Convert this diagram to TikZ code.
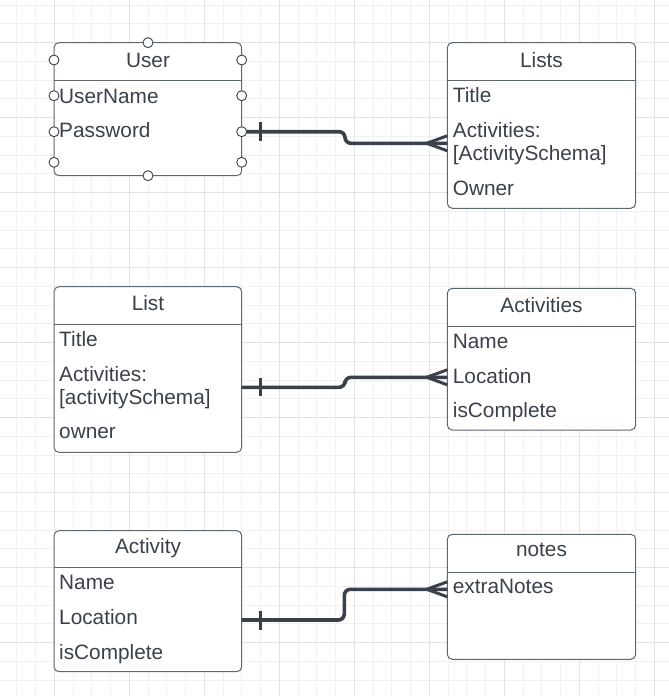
\documentclass[tikz,border=0pt]{standalone}
\usepackage{fontspec}
\setmainfont{Liberation Sans}
\definecolor{inkgray}{HTML}{3A414A}
\definecolor{edgegray}{HTML}{5E6670}
\definecolor{gridlight}{HTML}{F1F1F1}
\definecolor{griddark}{HTML}{E2E2E2}
\newcommand{\erFont}{\fontsize{20.8}{24}\selectfont}

\begin{document}
\begin{tikzpicture}[x=1pt,y=-1pt,
  entity/.style={draw=edgegray, line width=1pt, rounded corners=5pt, fill=white, anchor=north west, inner sep=0pt, outer sep=0pt},
  field/.style={anchor=base west, inner sep=0pt, text=inkgray, font=\erFont},
  heading/.style={anchor=base, inner sep=0pt, text=inkgray, font=\erFont},
  port/.style={circle, draw=inkgray, fill=white, line width=0.9pt, minimum size=10pt, inner sep=0pt},
  rel/.style={draw=inkgray, line width=3.6pt, rounded corners=6pt},
  crow/.style={draw=inkgray, line width=3pt}]
\useasboundingbox (0,0) rectangle (669,696);
\fill[white] (0,0) rectangle (669,696);
% grid
\foreach \i in {0,...,34} \draw[gridlight, line width=1pt] ({16.8+18.75*\i},0) -- ({16.8+18.75*\i},696);
\foreach \i in {0,...,36} \draw[gridlight, line width=1pt] (0,{5.2+18.75*\i}) -- (669,{5.2+18.75*\i});
\foreach \i in {0,...,8} \draw[griddark, line width=1pt] ({54.3+75*\i},0) -- ({54.3+75*\i},696);
\foreach \i in {0,...,8} \draw[griddark, line width=1pt] (0,{42.7+75*\i}) -- (669,{42.7+75*\i});

% User
\node[entity, minimum width=187.7pt, minimum height=133pt] (user) at (54,42.7) {};
\draw[edgegray, line width=1pt] (user.west |- 0,80.7) -- (user.east |- 0,80.7);
\node[heading] (user-t) at (148,67) {User};
\node[field] (user-name) at (59,103) {UserName};
\node[field] (user-pw) at (59,137) {Password};

% Lists
\node[entity, minimum width=188.4pt, minimum height=165.6pt] (lists) at (447.3,42.7) {};
\draw[edgegray, line width=1pt] (lists.west |- 0,80.7) -- (lists.east |- 0,80.7);
\node[heading] (lists-t) at (541.5,67) {Lists};
\node[field] (lists-title) at (452.7,102) {Title};
\node[field] (lists-act) at (452.7,137) {Activities:};
\node[field] (lists-schema) at (452.7,160.3) {[ActivitySchema]};
\node[field] (lists-owner) at (452.7,195.3) {Owner};

% List
\node[entity, minimum width=187.7pt, minimum height=165.6pt] (list) at (54,286.7) {};
\draw[edgegray, line width=1pt] (list.west |- 0,324) -- (list.east |- 0,324);
\node[heading] (list-t) at (148,310.3) {List};
\node[field] (list-title) at (59,346.3) {Title};
\node[field] (list-act) at (59,381.3) {Activities:};
\node[field] (list-schema) at (59,404.6) {[activitySchema]};
\node[field] (list-owner) at (59,438.5) {owner};

% Activities
\node[entity, minimum width=188.4pt, minimum height=141.7pt] (acts) at (447.3,288.3) {};
\draw[edgegray, line width=1pt] (acts.west |- 0,326.7) -- (acts.east |- 0,326.7);
\node[heading] (acts-t) at (541.5,312) {Activities};
\node[field] (acts-name) at (452.7,348) {Name};
\node[field] (acts-loc) at (452.7,383) {Location};
\node[field] (acts-done) at (452.7,417) {isComplete};

% Activity
\node[entity, minimum width=187.7pt, minimum height=141pt] (act) at (54,530.7) {};
\draw[edgegray, line width=1pt] (act.west |- 0,567.7) -- (act.east |- 0,567.7);
\node[heading] (act-t) at (148,553.7) {Activity};
\node[field] (act-name) at (59,589.7) {Name};
\node[field] (act-loc) at (59,624.7) {Location};
\node[field] (act-done) at (59,659.3) {isComplete};

% notes
\node[entity, minimum width=188.4pt, minimum height=125pt] (notes) at (447.3,534.3) {};
\draw[edgegray, line width=1pt] (notes.west |- 0,572.3) -- (notes.east |- 0,572.3);
\node[heading] (notes-t) at (541.5,556) {notes};
\node[field] (notes-extra) at (452.7,593.7) {extraNotes};

% User -> Lists
\coordinate (user-out) at (241.7,131.7);
\coordinate (lists-in) at (447.3,143.3);
\draw[rel] (user-out) -- (345,131.7) -- (345,143.3) -- (lists-in);
\draw[crow] (260.7,122.2) -- (260.7,141.2);
\draw[crow] (426.7,143.3) -- (447.3,135.8);
\draw[crow] (426.7,143.3) -- (447.3,150.8);

% List -> Activities
\coordinate (list-out) at (241.7,387.3);
\coordinate (acts-in) at (447.3,377.3);
\draw[rel] (list-out) -- (345,387.3) -- (345,377.3) -- (acts-in);
\draw[crow] (260.7,378.3) -- (260.7,396.3);
\draw[crow] (426.7,377.3) -- (447.3,369.8);
\draw[crow] (426.7,377.3) -- (447.3,384.8);

% Activity -> notes
\coordinate (act-out) at (241.7,620);
\coordinate (notes-in) at (447.3,589.3);
\draw[rel] (act-out) -- (344.3,620) -- (344.3,589.3) -- (notes-in);
\draw[crow] (260.7,610.5) -- (260.7,629.5);
\draw[crow] (426.7,589.3) -- (447.3,581.8);
\draw[crow] (426.7,589.3) -- (447.3,596.8);

% ports on User
\foreach \p/\y in {a/60,b/95.7,c/131.7,d/162.3} {
  \node[port] (user-l\p) at (54,\y) {};
  \node[port] (user-r\p) at (241.7,\y) {};
}
\node[port] (user-top) at (148,42.7) {};
\node[port] (user-bot) at (148,175.7) {};
\end{tikzpicture}
\end{document}
